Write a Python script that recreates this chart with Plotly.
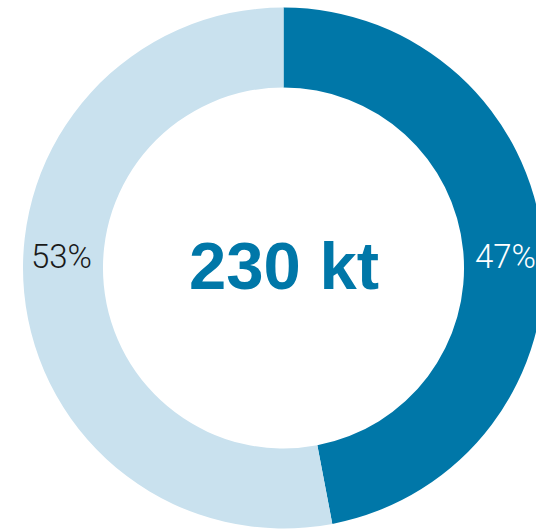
import plotly.graph_objects as go

# Data
categories = ["Share A", "Share B"]
shares = [47, 53]
total_label = "230 kt"

colors = ["#0077A8", "#C9E1EE"]
text_colors = ["#FFFFFF", "#1A1A1A"]

W, H = 567, 538
fig = go.Figure(
    go.Pie(
        labels=categories,
        values=shares,
        hole=0.693,
        sort=False,
        direction="clockwise",
        rotation=0,
        marker=dict(colors=colors, line=dict(width=0)),
        textinfo="none",
        hoverinfo="label+percent",
        domain=dict(x=[0, 1], y=[9.5 / H, 530.5 / H]),
    )
)

# centre total
fig.add_annotation(
    x=0.5, y=(H - 265) / H, xref="paper", yref="paper",
    text=f"<b>{total_label}</b>", showarrow=False,
    font=dict(family="Liberation Sans, Arial, sans-serif", size=67, color="#0077A8"),
    xanchor="center", yanchor="middle",
)

# percentage labels right (47%) and left (53%) of the ring
for i, xpos in zip(range(len(shares)), [505 / W, 61 / W]):
    fig.add_annotation(
        x=xpos, y=(H - 256) / H, xref="paper", yref="paper",
        text=f"{shares[i]}%", showarrow=False,
        font=dict(family="Roboto, Liberation Sans, sans-serif",
                  size=33, weight=300, color=text_colors[i]),
        xanchor="center", yanchor="middle",
    )

fig.update_layout(
    width=W, height=H,
    margin=dict(l=0, r=0, t=0, b=0),
    paper_bgcolor="white",
    plot_bgcolor="white",
    showlegend=False,
)

fig.write_html(
    "out.html",
    config={"displayModeBar": False},
    post_script="document.body.style.margin='0';document.body.style.overflow='hidden';",
)
